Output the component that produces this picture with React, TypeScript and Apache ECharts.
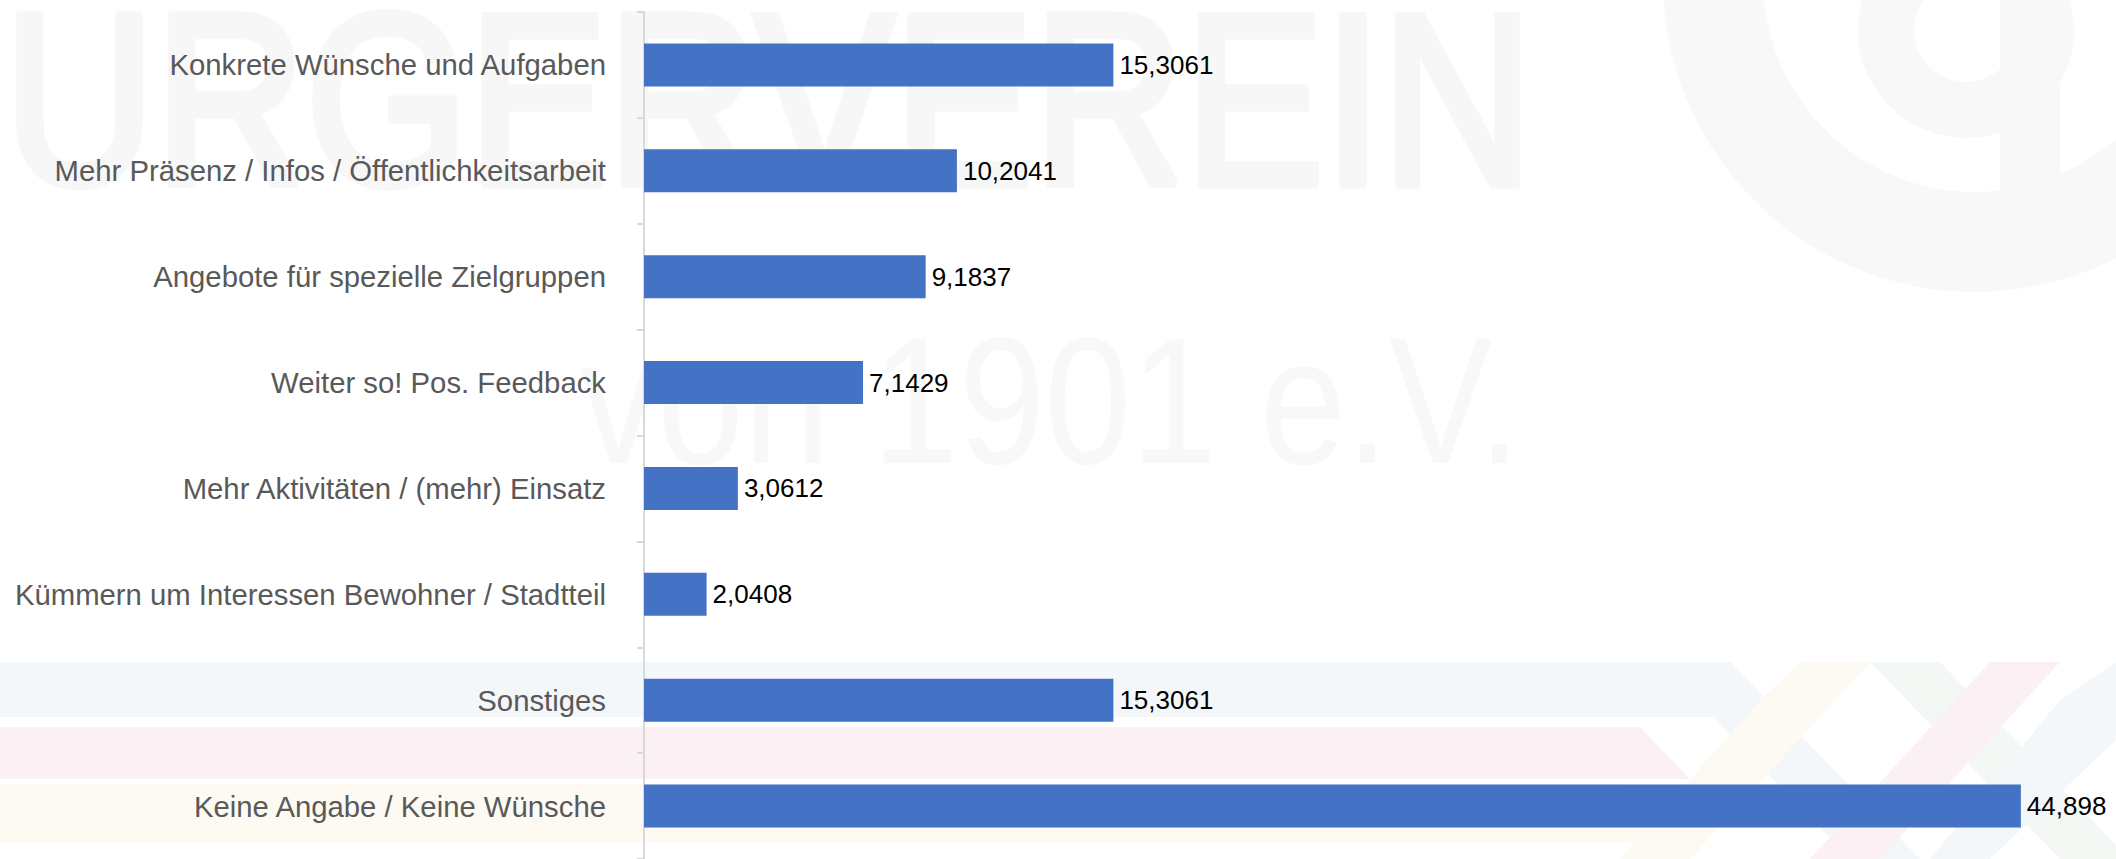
import React, { useEffect, useRef } from "react";
import * as echarts from "echarts";

const categories = [
  "Konkrete Wünsche und Aufgaben",
  "Mehr Präsenz / Infos / Öffentlichkeitsarbeit",
  "Angebote für spezielle Zielgruppen",
  "Weiter so! Pos. Feedback",
  "Mehr Aktivitäten / (mehr) Einsatz",
  "Kümmern um Interessen Bewohner / Stadtteil",
  "Sonstiges",
  "Keine Angabe / Keine Wünsche",
];

const values = [15.3061, 10.2041, 9.1837, 7.1429, 3.0612, 2.0408, 15.3061, 44.898];

const FONT = "'Liberation Sans', Arial, Helvetica, sans-serif";

export default function App() {
  const ref = useRef<HTMLDivElement>(null);

  useEffect(() => {
    if (!ref.current) return;
    const chart = echarts.init(ref.current, undefined, { renderer: "svg" });

    const wm = "#f7f7f7";
    const graphics: any[] = [
      // coloured bands at the bottom
      { type: "polygon", z: -100, shape: { points: [[0, 662], [1660, 662], [1720, 717], [0, 717]] }, style: { fill: "#f3f7fa" } },
      { type: "polygon", z: -100, shape: { points: [[0, 727], [1640, 727], [1690, 779], [0, 779]] }, style: { fill: "#fbf1f4" } },
      { type: "polygon", z: -100, shape: { points: [[0, 784], [1620, 784], [1670, 843], [0, 843]] }, style: { fill: "#fdf9f3" } },
      // braid strips
      { type: "polygon", z: -100, shape: { points: [[1660, 662], [1730, 662], [1920, 859], [1850, 859]] }, style: { fill: "#f3f7fa" } },
      { type: "polygon", z: -100, shape: { points: [[1760, 700], [1800, 662], [1870, 662], [1690, 859], [1620, 859]] }, style: { fill: "#fdf9f3" } },
      { type: "polygon", z: -100, shape: { points: [[1870, 662], [1940, 662], [2116, 845], [2116, 859], [2060, 859]] }, style: { fill: "#f4f8f4" } },
      { type: "polygon", z: -100, shape: { points: [[1990, 662], [2060, 662], [1880, 859], [1810, 859]] }, style: { fill: "#fbf1f4" } },
      { type: "polygon", z: -100, shape: { points: [[2060, 700], [2116, 662], [2116, 740], [1990, 859], [1930, 859]] }, style: { fill: "#f3f7fa" } },
      // watermark texts
      {
        type: "text", z: -90, x: 4, y: 100, scaleX: 0.86,
        style: {
          text: "URGERVEREIN", fontSize: 243, lineHeight: 198, fontFamily: FONT,
          fill: wm, stroke: wm, lineWidth: 9, align: "left", verticalAlign: "middle",
        },
      },
      {
        type: "text", z: -90, x: 580, y: 401, scaleX: 0.86,
        style: { text: "von 1901 e.V.", fontSize: 180, fontFamily: FONT, fill: "#f8f8f8", align: "left", verticalAlign: "middle" },
      },
      // logo
      { type: "ring", z: -90, shape: { cx: 1975, cy: -20, r: 312, r0: 212 }, style: { fill: "#f8f8f8" } },
      { type: "ring", z: -90, shape: { cx: 1966, cy: 30, r: 108, r0: 52 }, style: { fill: "#f8f8f8" } },
      { type: "rect", z: -90, shape: { x: 2000, y: 0, width: 60, height: 240 }, style: { fill: "#f8f8f8" } },
    ];

    chart.setOption({
      animation: false,
      backgroundColor: "#ffffff",
      graphic: graphics,
      grid: { left: 644, top: 12, width: 1473, height: 848, containLabel: false },
      xAxis: {
        type: "value",
        min: 0,
        max: 48,
        show: false,
        splitLine: { show: false },
      },
      yAxis: {
        type: "category",
        inverse: true,
        data: categories,
        axisLine: { show: true, lineStyle: { color: "#d9d9d9", width: 2 } },
        axisTick: { show: true, length: 7, lineStyle: { color: "#d9d9d9", width: 2 } },
        axisLabel: { color: "#595959", fontSize: 29.3, fontFamily: FONT, margin: 38 },
        splitLine: { show: false },
      },
      series: [
        {
          type: "bar",
          data: values,
          barWidth: 43,
          itemStyle: { color: "#4472C4" },
          label: {
            show: true,
            position: "right",
            distance: 6,
            color: "#000000",
            fontSize: 26,
            fontFamily: FONT,
            formatter: (p: any) => String(p.value).replace(".", ","),
          },
        },
      ],
    });

    return () => chart.dispose();
  }, []);

  return (
    <div
      ref={ref}
      style={{ position: "absolute", left: 0, top: 0, width: 2116, height: 859 }}
    />
  );
}
